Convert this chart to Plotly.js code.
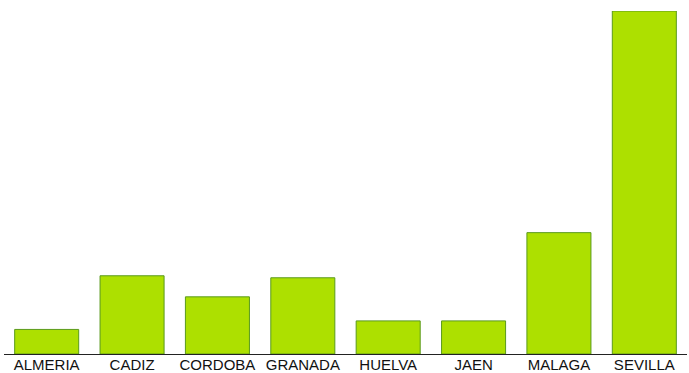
<!DOCTYPE html>
<html>
<head>
<meta charset="utf-8">
<script src="https://cdn.plot.ly/plotly-3.0.1.min.js"></script>
<style>html,body{margin:0;padding:0;background:#fff;}#chart{width:689px;height:373px;}</style>
</head>
<body>
<div id="chart"></div>
<script>
const provincias = ["ALMERIA", "CADIZ", "CORDOBA", "GRANADA", "HUELVA", "JAEN", "MALAGA", "SEVILLA"];
const valores = [24.5, 78, 57, 76, 33, 33, 121, 342];

const trace = {
  type: "bar",
  x: provincias,
  y: valores,
  marker: { color: "#ade000", line: { color: "#5a9a1c", width: 1 } },
  hoverinfo: "x+y"
};

const layout = {
  width: 689,
  height: 373,
  margin: { l: 4, r: 2, t: 11, b: 19, pad: 0 },
  paper_bgcolor: "#ffffff",
  plot_bgcolor: "#ffffff",
  bargap: 0.25,
  showlegend: false,
  xaxis: {
    type: "category",
    showline: true,
    linecolor: "#222222",
    linewidth: 1,
    showgrid: false,
    zeroline: false,
    ticks: "",
    automargin: false,
    ticklabelstandoff: -3,
    tickfont: { family: "Liberation Sans, Arial, sans-serif", size: 15, color: "#111111" }
  },
  yaxis: {
    range: [0, 342],
    visible: false,
    showgrid: false,
    zeroline: false,
    automargin: false
  }
};

Plotly.newPlot("chart", [trace], layout, { displayModeBar: false, staticPlot: true });
</script>
</body>
</html>
